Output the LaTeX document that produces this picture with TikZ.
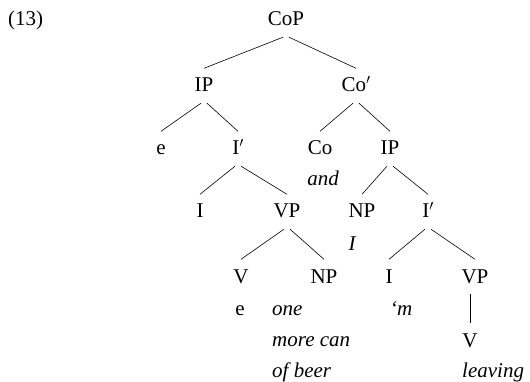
\documentclass[tikz,border=0pt]{standalone}
\usepackage{fontspec}
\setmainfont{Liberation Serif}
\begin{document}
\begin{tikzpicture}[x=1pt,y=-1pt,
  lab/.style={anchor=base, inner xsep=1pt, inner ysep=11pt, text height=12.5pt, text depth=0pt, font=\fontsize{21}{25}\selectfont},
  word/.style={anchor=base west, inner sep=0pt, font=\fontsize{21}{25}\selectfont\itshape},
  wordc/.style={anchor=base, inner sep=0pt, font=\fontsize{21}{25}\selectfont\itshape},
  br/.style={line width=0.6pt}]
\useasboundingbox (0,0) rectangle (530,382);
\node[anchor=base west, inner sep=0pt, font=\fontsize{21}{25}\selectfont] (ex) at (8,26) {(13)};
% level 0
\node[lab] (CoP) at (286,26) {CoP};
% level 1
\node[lab] (IPa) at (204,92) {IP};
\node[lab] (Cobar) at (356,92) {Co$'$};
% level 2
\node[lab] (ea) at (161,155) {e};
\node[lab] (Ibara) at (238,155) {I$'$};
\node[lab] (Co) at (320,155) {Co};
\node[lab] (IPb) at (390,155) {IP};
\node[wordc] (and) at (323,186) {and};
% level 3
\node[lab] (Ia) at (200,218) {I};
\node[lab] (VPa) at (287,218) {VP};
\node[lab] (NPa) at (362,218) {NP};
\node[lab] (Ibarb) at (428,218) {I$'$};
\node[wordc] (Iw) at (352,251) {I};
% level 4
\node[lab] (Va) at (241,283) {V};
\node[lab] (NPb) at (324,283) {NP};
\node[lab] (Ib) at (389,283) {I};
\node[lab] (VPb) at (475,283) {VP};
% terminals
\node[anchor=base, inner sep=0pt, font=\fontsize{21}{25}\selectfont] (eb) at (240,315) {e};
\node[word] (one) at (272,315) {one};
\node[word] (more) at (272,346) {more can};
\node[word] (beer) at (272,377) {of beer};
\node[word] (m) at (390,315) {‘m};
\node[lab] (Vb) at (470,347) {V};
\node[word] (leaving) at (462,377) {leaving};
% branches
\draw[br] ([xshift=-3pt]CoP.south) -- (IPa.north);
\draw[br] ([xshift=3pt]CoP.south) -- (Cobar.north);
\draw[br] ([xshift=-3pt]IPa.south) -- (ea.north);
\draw[br] ([xshift=3pt]IPa.south) -- (Ibara.north);
\draw[br] ([xshift=-3pt]Cobar.south) -- (Co.north);
\draw[br] ([xshift=3pt]Cobar.south) -- (IPb.north);
\draw[br] ([xshift=-3pt]Ibara.south) -- (Ia.north);
\draw[br] ([xshift=3pt]Ibara.south) -- (VPa.north);
\draw[br] ([xshift=-3pt]IPb.south) -- (NPa.north);
\draw[br] ([xshift=3pt]IPb.south) -- (Ibarb.north);
\draw[br] ([xshift=-3pt]VPa.south) -- (Va.north);
\draw[br] ([xshift=3pt]VPa.south) -- (NPb.north);
\draw[br] ([xshift=-3pt]Ibarb.south) -- (Ib.north);
\draw[br] ([xshift=3pt]Ibarb.south) -- (VPb.north);
\draw[br] (Vb.north |- VPb.south) -- (Vb.north);
\end{tikzpicture}
\end{document}
